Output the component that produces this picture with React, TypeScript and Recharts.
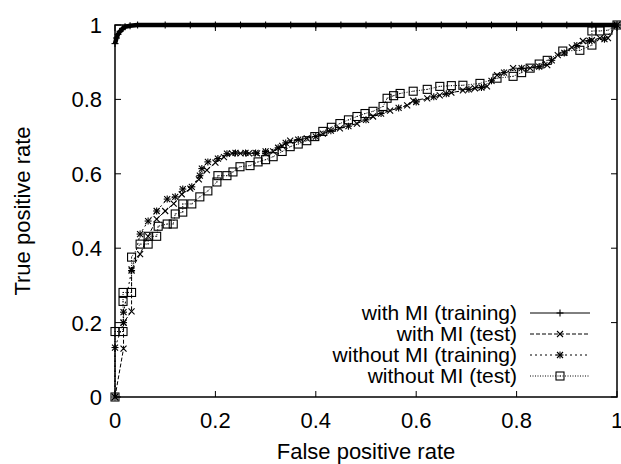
import { LineChart, Line, XAxis, YAxis, ReferenceArea } from "recharts";

const FONT = '"Liberation Sans", Arial, Helvetica, sans-serif';
const W = 621;
const H = 464;
// plot frame (gnuplot style box)
const LEFT = 115;
const RIGHT = 617;
const TOP = 25;
const BOTTOM = 397;
const XAXIS_H = 40;

const xTicks = [0, 0.2, 0.4, 0.6, 0.8, 1];
const yTicks = [0, 0.2, 0.4, 0.6, 0.8, 1];

// with MI (training)
const miTrainFpr = [0, 0.003, 0.006, 0.01, 0.015, 0.02, 0.03, 0.045, 0.1, 0.15, 0.2, 0.25, 0.3, 0.35, 0.4, 0.45, 0.5, 0.55, 0.6, 0.65, 0.7, 0.75, 0.8, 0.85, 0.9, 0.95, 1];
const miTrainTpr = [0.95, 0.965, 0.975, 0.983, 0.99, 0.995, 0.998, 1, 1, 1, 1, 1, 1, 1, 1, 1, 1, 1, 1, 1, 1, 1, 1, 1, 1, 1, 1];

// with MI (test)
const miTestFpr = [0, 0.017, 0.017, 0.033, 0.033, 0.05, 0.066, 0.083, 0.1, 0.117, 0.133, 0.15, 0.167, 0.183, 0.2, 0.217, 0.233, 0.25, 0.267, 0.283, 0.3, 0.315, 0.333, 0.349, 0.382, 0.414, 0.448, 0.482, 0.514, 0.548, 0.582, 0.594, 0.622, 0.647, 0.67, 0.693, 0.717, 0.741, 0.761, 0.793, 0.827, 0.861, 0.882, 0.91, 0.932, 0.95, 0.966, 0.982, 1];
const miTestTpr = [0, 0.13, 0.2, 0.23, 0.343, 0.384, 0.432, 0.478, 0.5, 0.52, 0.545, 0.56, 0.585, 0.61, 0.63, 0.645, 0.655, 0.655, 0.655, 0.655, 0.655, 0.66, 0.675, 0.689, 0.695, 0.708, 0.722, 0.735, 0.754, 0.77, 0.784, 0.797, 0.803, 0.811, 0.818, 0.824, 0.83, 0.835, 0.865, 0.884, 0.884, 0.892, 0.919, 0.94, 0.957, 0.959, 0.965, 0.965, 1];

// without MI (training)
const noMiTrainFpr = [0, 0, 0.017, 0.017, 0.033, 0.05, 0.066, 0.083, 0.104, 0.12, 0.135, 0.153, 0.169, 0.173, 0.185, 0.205, 0.223, 0.24, 0.26, 0.28, 0.3, 0.325, 0.34, 0.365, 0.4, 0.43, 0.465, 0.5, 0.53, 0.565, 0.6, 0.635, 0.66, 0.705, 0.73, 0.75, 0.775, 0.81, 0.845, 0.87, 0.895, 0.92, 0.945, 0.975, 1];
const noMiTrainTpr = [0, 0.133, 0.2, 0.228, 0.34, 0.438, 0.473, 0.5, 0.532, 0.538, 0.559, 0.565, 0.595, 0.614, 0.632, 0.641, 0.654, 0.656, 0.656, 0.656, 0.66, 0.67, 0.683, 0.692, 0.7, 0.716, 0.728, 0.745, 0.762, 0.777, 0.793, 0.807, 0.815, 0.827, 0.832, 0.85, 0.872, 0.884, 0.888, 0.905, 0.925, 0.945, 0.958, 0.962, 1];

// without MI (test)
const noMiTestFpr = [0, 0, 0.016, 0.016, 0.016, 0.033, 0.033, 0.05, 0.066, 0.066, 0.083, 0.086, 0.104, 0.116, 0.12, 0.135, 0.135, 0.153, 0.169, 0.185, 0.203, 0.205, 0.223, 0.235, 0.249, 0.269, 0.285, 0.3, 0.315, 0.333, 0.349, 0.365, 0.382, 0.398, 0.414, 0.431, 0.448, 0.465, 0.482, 0.498, 0.514, 0.534, 0.542, 0.555, 0.568, 0.594, 0.622, 0.647, 0.67, 0.693, 0.727, 0.761, 0.793, 0.81, 0.827, 0.845, 0.861, 0.892, 0.926, 0.95, 0.95, 0.966, 0.982, 1];
const noMiTestTpr = [0, 0.176, 0.176, 0.257, 0.281, 0.281, 0.376, 0.411, 0.411, 0.432, 0.432, 0.459, 0.465, 0.465, 0.492, 0.497, 0.519, 0.519, 0.538, 0.554, 0.578, 0.595, 0.595, 0.605, 0.619, 0.622, 0.632, 0.638, 0.646, 0.66, 0.673, 0.68, 0.689, 0.7, 0.714, 0.725, 0.735, 0.745, 0.754, 0.762, 0.768, 0.781, 0.803, 0.81, 0.816, 0.822, 0.827, 0.835, 0.837, 0.838, 0.843, 0.857, 0.862, 0.872, 0.884, 0.895, 0.905, 0.93, 0.932, 0.946, 0.984, 0.984, 0.986, 1];

const zip = (fpr: number[], tpr: number[]) => fpr.map((x, i) => ({ x, y: tpr[i] }));

type Kind = "plus" | "cross" | "star" | "square";

function Marker({ kind, cx, cy }: { kind: Kind; cx: number; cy: number }) {
  const s = 3.5;
  const plus = (
    <>
      <line x1={cx - s} y1={cy} x2={cx + s} y2={cy} />
      <line x1={cx} y1={cy - s} x2={cx} y2={cy + s} />
    </>
  );
  const cross = (
    <>
      <line x1={cx - 3} y1={cy - 3} x2={cx + 3} y2={cy + 3} />
      <line x1={cx - 3} y1={cy + 3} x2={cx + 3} y2={cy - 3} />
    </>
  );
  return (
    <g stroke="#000" strokeWidth={1.1} fill="none">
      {kind === "plus" && plus}
      {kind === "cross" && cross}
      {kind === "star" && (
        <>
          {plus}
          {cross}
        </>
      )}
      {kind === "square" && (
        <>
          <rect x={cx - 4} y={cy - 4} width={8} height={8} />
          <rect x={cx - 0.5} y={cy - 0.5} width={1} height={1} fill="#000" stroke="none" />
        </>
      )}
    </g>
  );
}

const SERIES: { name: string; data: { x: number; y: number }[]; kind: Kind; dash?: string; width: number }[] = [
  { name: "with MI (training)", data: zip(miTrainFpr, miTrainTpr), kind: "plus", width: 4.5 },
  { name: "with MI (test)", data: zip(miTestFpr, miTestTpr), kind: "cross", dash: "4 2", width: 1 },
  { name: "without MI (training)", data: zip(noMiTrainFpr, noMiTrainTpr), kind: "star", dash: "2 3", width: 1 },
  { name: "without MI (test)", data: zip(noMiTestFpr, noMiTestTpr), kind: "square", dash: "1 1.5", width: 1 },
];

const fmt = (v: number) => (v === 0 || v === 1 ? String(v) : v.toFixed(1));

const XTick = (props: any) => {
  const { x, payload } = props;
  return (
    <g>
      <line x1={x} y1={BOTTOM} x2={x} y2={BOTTOM - 6} stroke="#000" />
      <line x1={x} y1={TOP} x2={x} y2={TOP + 6} stroke="#000" />
      <text x={x} y={BOTTOM + 31} textAnchor="middle" fontSize={22} fontFamily={FONT} fill="#000">
        {fmt(payload.value)}
      </text>
    </g>
  );
};

const YTick = (props: any) => {
  const { y, payload } = props;
  return (
    <g>
      <line x1={LEFT} y1={y} x2={LEFT + 6} y2={y} stroke="#000" />
      <line x1={RIGHT} y1={y} x2={RIGHT - 6} y2={y} stroke="#000" />
      <text x={LEFT - 13} y={y + 8} textAnchor="end" fontSize={22} fontFamily={FONT} fill="#000">
        {fmt(payload.value)}
      </text>
    </g>
  );
};

const ROWS = [313, 334, 355, 376];

export default function App() {
  return (
    <div style={{ position: "absolute", left: 0, top: 0, width: W, height: H, background: "#fff" }}>
      <LineChart width={W} height={H} margin={{ top: TOP, right: W - RIGHT, bottom: H - BOTTOM - XAXIS_H, left: 0 }}>
        <XAxis
          type="number"
          dataKey="x"
          domain={[0, 1]}
          ticks={xTicks}
          interval={0}
          height={XAXIS_H}
          axisLine={false}
          tickLine={false}
          tickSize={0}
          tick={<XTick />}
        />
        <YAxis
          type="number"
          dataKey="y"
          domain={[0, 1]}
          ticks={yTicks}
          interval={0}
          width={LEFT}
          axisLine={false}
          tickLine={false}
          tickSize={0}
          tick={<YTick />}
        />
        <ReferenceArea x1={0} x2={1} y1={0} y2={1} fill="none" stroke="#000" strokeWidth={1.5} />
        {SERIES.map((s) => (
          <Line
            key={s.name}
            data={s.data}
            dataKey="y"
            type="linear"
            stroke="#000"
            strokeWidth={s.width}
            strokeDasharray={s.dash}
            isAnimationActive={false}
            dot={(p: any) => <Marker key={`${s.name}-${p.index}`} kind={s.kind} cx={p.cx} cy={p.cy} />}
            activeDot={false}
          />
        ))}
      </LineChart>
      <svg
        width={W}
        height={H}
        style={{ position: "absolute", left: 0, top: 0, pointerEvents: "none" }}
        fontFamily={FONT}
        fontSize={21}
      >
        {SERIES.map((s, i) => (
          <g key={s.name}>
            <text x={517} y={ROWS[i] + 7} textAnchor="end" fill="#000">
              {s.name}
            </text>
            <line x1={530} y1={ROWS[i]} x2={590} y2={ROWS[i]} stroke="#000" strokeWidth={1} strokeDasharray={s.dash} />
            <Marker kind={s.kind} cx={560} cy={ROWS[i]} />
          </g>
        ))}
        <text x={(LEFT + RIGHT) / 2} y={459} textAnchor="middle" fill="#000" fontSize={22}>
          False positive rate
        </text>
        <text transform={`translate(30, ${(TOP + BOTTOM) / 2}) rotate(-90)`} textAnchor="middle" fill="#000" fontSize={22}>
          True positive rate
        </text>
      </svg>
    </div>
  );
}
